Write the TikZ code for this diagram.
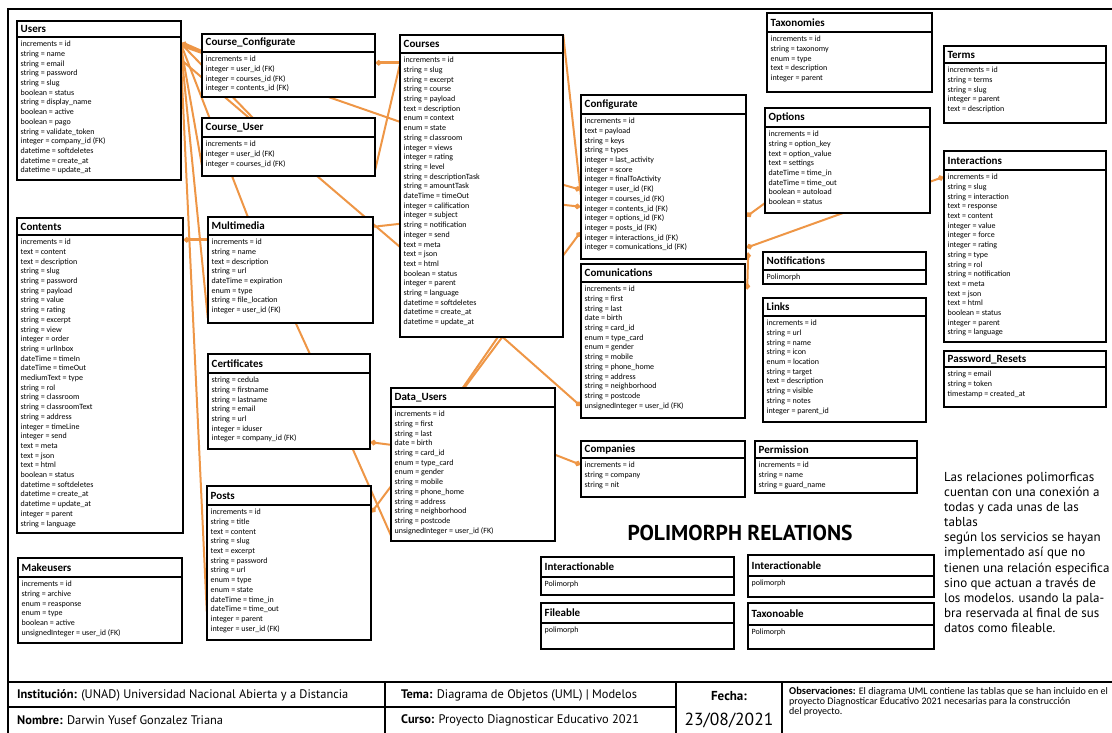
\documentclass[tikz,border=0pt]{standalone}
\usepackage{fontspec}
\setmainfont{PT Sans}
\newfontfamily\tblfont{Carlito}
\usetikzlibrary{arrows.meta,calc,fit}
\pgfdeclarelayer{bg}
\pgfsetlayers{bg,main}
\definecolor{relorange}{RGB}{238,150,70}
\tikzset{
  tblline/.style={line width=1.8pt},
  tbltitle/.style={anchor=west, xshift=3.5pt, inner sep=0pt, font=\tblfont\fontsize{11}{12}\selectfont\bfseries},
  tblrows/.style={anchor=north west, xshift=3.5pt, yshift=-4pt, inner sep=0pt, align=left, font=\tblfont\fontsize{8}{9.7}\selectfont},
  rel/.style={draw=relorange, line width=2pt},
  fkend/.style={rel, -{Diamond[length=7pt,width=6pt]}},
  fkstart/.style={rel, {Diamond[length=7pt,width=6pt]}-},
  fkboth/.style={rel, {Diamond[length=7pt,width=6pt]}-{Diamond[length=7pt,width=6pt]}},
  foot/.style={anchor=west, inner sep=0pt, font=\fontsize{12.4}{14}\selectfont},
  frame/.style={line width=2pt}
}
% name, x1, y1, x2, y2, header line, title, rows
\newcommand{\umltable}[8]{%
  \draw[tblline, fill=white] (#2,#3) rectangle (#4,#5);
  \draw[tblline] (#2,#6) -- (#4,#6);
  \node[fit={(#2,#3)(#4,#5)}, inner sep=0pt] (#1) {};
  \node[tbltitle] (#1-title) at (#2,{(#3+#6)/2}) {#7};
  \node[tblrows] (#1-rows) at (#2,#6) {#8};
}
\begin{document}
\begin{tikzpicture}[x=1pt, y=-1pt]
    \useasboundingbox (0,0) rectangle (1112,733);
    \draw[line width=2.5pt] (1112,9) -- (8,9) -- (8,733);

    \umltable{users}{17}{21}{181}{180}{37}{Users}{increments = id\\string = name\\string = email\\string = password\\string = slug\\boolean = status\\string = display\_name\\boolean = active\\boolean = pago\\string = validate\_token\\integer = company\_id (FK)\\datetime = softdeletes\\datetime = create\_at\\datetime = update\_at}
    \umltable{cconf}{202}{34}{375}{97}{52}{Course\_Configurate}{increments = id\\integer = user\_id (FK)\\integer = courses\_id (FK)\\integer = contents\_id (FK)}
    \umltable{cuser}{202}{118}{375}{176}{137}{Course\_User}{increments = id\\integer = user\_id (FK)\\integer = courses\_id (FK)}
    \umltable{contents}{17}{218}{183}{533}{235}{Contents}{increments = id\\text = content\\text = description\\string = slug\\string = password\\string = payload\\string = value\\string = rating\\string = excerpt\\string = view\\integer = order\\string = urlInbox\\dateTime = timeIn\\dateTime = timeOut\\mediumText = type\\string = rol\\string = classroom\\string = classroomText\\string = address\\integer = timeLine\\integer = send\\text = meta\\text = json\\text = html\\boolean = status\\datetime = softdeletes\\datetime = create\_at\\datetime = update\_at\\integer = parent\\string = language}
    \umltable{multimedia}{208}{217}{373}{323}{235}{Multimedia}{increments = id\\string = name\\text = description\\string = url\\dateTime = expiration\\enum = type\\string = file\_location\\integer = user\_id (FK)}
    \umltable{certificates}{208}{354}{370}{449}{373}{Certificates}{string = cedula\\string = firstname\\string = lastname\\string = email\\string = url\\integer = iduser\\integer = company\_id (FK)}
    \umltable{posts}{207}{486}{371}{640}{505}{Posts}{increments = id\\string = title\\text = content\\string = slug\\text = excerpt\\string = password\\string = url\\enum = type\\enum = state\\dateTime = time\_in\\dateTime = time\_out\\integer = parent\\integer = user\_id (FK)}
    \umltable{makeusers}{18}{558}{182}{643}{577}{Makeusers}{increments = id\\string = archive\\enum = reasponse\\enum = type\\boolean = active\\unsignedInteger = user\_id (FK)}
    \umltable{courses}{400}{35}{563}{337}{53}{Courses}{increments = id\\string = slug\\string = excerpt\\string = course\\string = payload\\text = description\\enum = context\\enum = state\\string = classroom\\integer = views\\integer = rating\\string = level\\string = descriptionTask\\string = amountTask\\dateTime = timeOut\\integer = calification\\integer = subject\\string = notification\\integer = send\\text = meta\\text = json\\text = html\\boolean = status\\integer = parent\\string = language\\datetime = softdeletes\\datetime = create\_at\\datetime = update\_at}
    \umltable{datausers}{391}{388}{555}{541}{407}{Data\_Users}{increments = id\\string = first\\string = last\\date = birth\\string = card\_id\\enum = type\_card\\enum = gender\\string = mobile\\string = phone\_home\\string = address\\string = neighborhood\\string = postcode\\unsignedInteger = user\_id (FK)}
    \umltable{configurate}{581}{95}{746}{259}{114}{Configurate}{increments = id\\text = payload\\string = keys\\string = types\\integer = last\_activity\\integer = score\\integer = finalToActivity\\integer = user\_id (FK)\\integer = courses\_id (FK)\\integer = contents\_id (FK)\\integer = options\_id (FK)\\integer = posts\_id (FK)\\integer = interactions\_id (FK)\\integer = comunications\_id (FK)}
    \umltable{comunications}{581}{264}{745}{418}{282}{Comunications}{increments = id\\string = first\\string = last\\date = birth\\string = card\_id\\enum = type\_card\\enum = gender\\string = mobile\\string = phone\_home\\string = address\\string = neighborhood\\string = postcode\\unsignedInteger = user\_id (FK)}
    \umltable{companies}{581}{441}{745}{497}{458}{Companies}{increments = id\\string = company\\string = nit}
    \umltable{taxonomies}{767}{13}{932}{92}{32}{Taxonomies}{increments = id\\string = taxonomy\\enum = type\\text = description\\integer = parent}
    \umltable{options}{765}{108}{930}{213}{127}{Options}{increments = id\\string = option\_key\\text = option\_value\\text = settings\\dateTime = time\_in\\dateTime = time\_out\\boolean = autoload\\boolean = status}
    \umltable{terms}{944}{46}{1106}{123}{63}{Terms}{increments = id\\string = terms\\string = slug\\integer = parent\\text = description}
    \umltable{interactions}{944}{151}{1106}{342}{170}{Interactions}{increments = id\\string = slug\\string = interaction\\text = response\\text = content\\integer = value\\integer = force\\integer = rating\\string = type\\string = rol\\string = notification\\text = meta\\text = json\\text = html\\boolean = status\\integer = parent\\string = language}
    \umltable{pwresets}{944}{351}{1106}{407}{367}{Password\_Resets}{string = email\\string = token\\timestamp = created\_at}
    \umltable{notifications}{763}{252}{926}{284}{270}{Notifications}{Polimorph}
    \umltable{links}{763}{298}{926}{422}{316}{Links}{increments = id\\string = url\\string = name\\string = icon\\enum = location\\string = target\\text = description\\string = visible\\string = notes\\integer = parent\_id}
    \umltable{permission}{755}{441}{917}{493}{458}{Permission}{increments = id\\string = name\\string = guard\_name}
    \umltable{interl}{541}{557}{734}{595}{577}{Interactionable}{Polimorph}
    \umltable{fileable}{541}{603}{734}{649}{623}{Fileable}{polimorph}
    \umltable{interr}{748}{555}{934}{597}{576}{Interactionable}{polimorph}
    \umltable{taxonoable}{748}{603}{934}{649}{625}{Taxonoable}{Polimorph}

    \begin{pgfonlayer}{bg}
        \draw[fkstart, line width=3.5pt] ($(users.north east)+(0,22)$) -- ($(cconf.north west)+(0,18)$);
        \draw[rel] ($(users.north east)+(0,25)$) -- ($(courses.north west)+(0,87)$);
        \draw[rel] ($(users.north east)+(0,27)$) -- ($(cuser.north west)+(0,47)$);
        \draw[rel] ($(users.north east)+(0,23)$) -- ($(cuser.north west)+(51,0)$);
        \draw[rel] ($(users.north east)+(0,24)$) -- ($(multimedia.north west)+(40,0)$);
        \draw[rel] ($(users.north east)+(-1,23)$) -- ($(posts.north west)+(0,126)$);
        \draw[rel] ($(users.north east)+(0,30)$) -- ($(multimedia.south west)+(0,-5)$);
        \draw[rel] ($(users.north east)+(0,39)$) -- ($(courses.north west)+(0,212)$);
        \draw[fkstart, line width=3pt] ($(contents.north east)+(0,22)$) -- ($(multimedia.north west)+(0,23)$);
        \draw[fkstart, line width=3pt] ($(cconf.north east)+(0,29)$) -- ($(courses.north west)+(0,28)$);
        \draw[rel] ($(cuser.north east)+(0,52)$) -- ($(courses.north west)+(0,30)$);
        \draw[rel] ($(multimedia.north east)+(0,10)$) -- ($(courses.north west)+(0,189)$);
        \draw[rel] ($(multimedia.south west)+(88,0)$) -- ($(certificates.north west)+(102,0)$);
        \draw[fkstart] ($(certificates.south east)+(0,-7)$) -- ($(datausers.north west)+(0,57)$);
        \draw[rel] ($(certificates.south west)+(145,0)$) -- ($(datausers.south west)+(0,-6)$);
        \draw[fkboth] ($(configurate.north west)+(0,137)$) -- ($(posts.north east)+(0,27)$);
        \draw[rel] ($(courses.south west)+(98,0)$) -- ($(datausers.north west)+(72,0)$);
        \draw[fkend] ($(courses.south west)+(103,0)$) -- ($(comunications.south west)+(0,-12)$);
        \draw[fkend] ($(datausers.north east)+(0,67)$) -- ($(companies.north west)+(0,24)$);
        \draw[fkend] ($(courses.north east)+(0,150)$) -- ($(configurate.north west)+(0,95)$);
        \draw[fkend] ($(courses.north east)+(0,170)$) -- ($(configurate.north west)+(0,112)$);
        \draw[rel] (courses.north east) -- ($(configurate.north west)+(0,100)$);
        \draw[fkstart] ($(configurate.north east)+(0,122)$) -- ($(options.south west)+(0,-10)$);
        \draw[fkboth] ($(configurate.north east)+(0,153)$) -- ($(interactions.north west)+(0,26)$);
        \draw[fkboth] ($(configurate.south east)+(2,-7)$) -- ($(comunications.north east)+(2,26)$);
    \end{pgfonlayer}

    \node[anchor=center, inner sep=0pt, font=\fontsize{21.5}{24}\selectfont\bfseries] (polytitle) at (740,533) {POLIMORPH RELATIONS};
    \node[anchor=north west, inner sep=0pt, align=left, font=\fontsize{13}{15.1}\selectfont] (polynote) at (944,472) {Las relaciones polimorficas\\cuentan con una conexión a\\todas y cada unas de las\\tablas\\según los servicios se hayan\\implementado así que no\\tienen una relación especifica\\sino que actuan a través de\\los modelos. usando la pala-\\bra reservada al final de sus\\datos como fileable.};

    \draw[frame] (8,682) -- (1112,682);
    \draw[frame] (8,707) -- (676,707);
    \draw[frame] (385,682) -- (385,733);
    \draw[frame] (676,682) -- (676,733);
    \draw[frame] (782,682) -- (782,733);
    \node[foot] (inst) at (17,695) {\textbf{Institución:} (UNAD) Universidad Nacional Abierta y a Distancia};
    \node[foot] (nombre) at (17,720) {\textbf{Nombre:} Darwin Yusef Gonzalez Triana};
    \node[foot] (tema) at (401,695) {\textbf{Tema:} Diagrama de Objetos (UML) | Modelos};
    \node[foot] (curso) at (401,720) {\textbf{Curso:} Proyecto Diagnosticar Educativo 2021};
    \node[foot, anchor=center, font=\fontsize{13}{15}\selectfont] (fecha) at (729,696) {\textbf{Fecha:}};
    \node[foot, anchor=center, font=\fontsize{17.5}{20}\selectfont] (fechaval) at (729,720) {23/08/2021};
    \node[anchor=north west, inner sep=0pt, align=left, font=\tblfont\fontsize{10}{10}\selectfont] (obs) at (789,687) {{\fontsize{10.5}{10}\selectfont\bfseries Observaciones:} El diagrama UML contiene las tablas que se han incluido en el\\proyecto Diagnosticar Educativo 2021 necesarias para la construcción\\del proyecto.};
\end{tikzpicture}
\end{document}
